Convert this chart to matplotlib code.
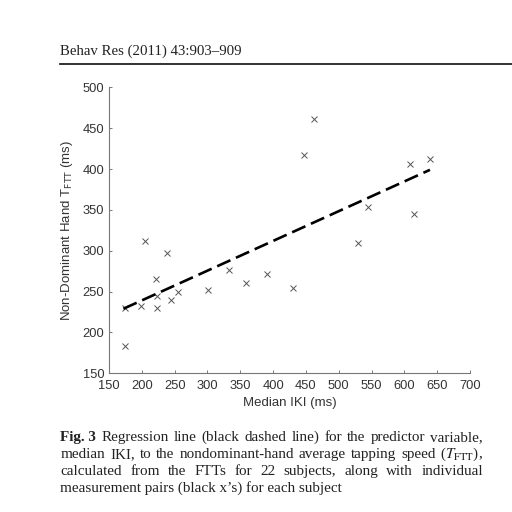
import numpy as np
import matplotlib.pyplot as plt
from matplotlib.lines import Line2D

median_iki = [174, 174, 199, 205, 222, 223, 223, 238, 245, 255, 301,
              333, 359, 390, 430, 447, 462, 530, 544, 608, 615, 639]
tftt_nondom = [183, 230, 232, 312, 265, 244, 230, 297, 240, 249, 252,
               276, 261, 271, 255, 417, 461, 310, 353, 406, 345, 412]

# regression line end points
fit_x = [172, 639]
fit_y = [229, 399]

x_ticks = list(range(150, 701, 50))
y_ticks = list(range(150, 501, 50))

header = "Behav Res (2011) 43:903\u2013909"
caption_lines = [
    [("Fig. 3", "bold"), ("Regression", None), ("line", None), ("(black", None), ("dashed", None),
     ("line)", None), ("for", None), ("the", None), ("predictor", None), ("variable,", None)],
    [("median", None), ("IKI,", None), ("to", None), ("the", None), ("nondominant-hand", None),
     ("average", None), ("tapping", None), ("speed", None), (r"($T_{\mathrm{FTT}}$),", None)],
    [("calculated", None), ("from", None), ("the", None), ("FTTs", None), ("for", None), ("22", None),
     ("subjects,", None), ("along", None), ("with", None), ("individual", None)],
]
caption_last = "measurement pairs (black x\u2019s) for each subject"

W = H = 512
fig = plt.figure(figsize=(W / 100, H / 100), dpi=100)
fig.patch.set_facecolor("white")


def fx(px):
    return px / W


def fy(py):
    return 1 - py / H


sans = ["Liberation Sans", "DejaVu Sans"]
serif = ["Liberation Serif", "DejaVu Serif"]

# page header + rule
fig.text(fx(60.5), fy(55), header, family=serif, fontsize=10.7, color="#222",
         va="baseline", ha="left")
fig.add_artist(Line2D([fx(60), fx(512)], [fy(64), fy(64)], transform=fig.transFigure,
                      color="#222", lw=1.3))

ax = fig.add_axes([fx(109), fy(373.3), (470 - 109) / W, (373.3 - 87.3) / H])
ax.plot(median_iki, tftt_nondom, "x", color="#555", ms=4, mew=0.7)
ax.plot(fit_x, fit_y, color="black", lw=1.9, dashes=(5.5, 2.3))

ax.set_xlim(150, 700)
ax.set_ylim(150, 500)
ax.set_xticks(x_ticks)
ax.set_yticks(y_ticks)
for s in ["top", "right"]:
    ax.spines[s].set_visible(False)
for s in ["left", "bottom"]:
    ax.spines[s].set_color("#777")
    ax.spines[s].set_linewidth(0.8)
ax.tick_params(direction="in", length=2.5, width=0.7, color="#777",
               labelsize=9.3, labelcolor="#333")
ax.tick_params(axis="x", pad=4.5)
ax.tick_params(axis="y", pad=3.5)
for lab in ax.get_xticklabels() + ax.get_yticklabels():
    lab.set_family(sans)

fig.text(fx(290), fy(403), "Median IKI (ms)", family=sans, fontsize=9.5,
         color="#333", ha="center", va="center")
fig.text(fx(67), fy(230), r"Non-Dominant Hand T$_{\mathrm{FTT}}$ (ms)", family=sans,
         fontsize=9.5, color="#333", ha="center", va="center", rotation=90,
         math_fontfamily="dejavusans")

# caption, justified lines
renderer = fig.canvas.get_renderer()
cap_left, cap_right = 60.5, 483
baselines = [441, 458, 475, 492]
cap_size = 10.9
for words, base in zip(caption_lines, baselines):
    texts = []
    for w, weight in words:
        t = fig.text(0, fy(base), w, family=serif, fontsize=cap_size, color="#222",
                     fontweight=weight or "normal", va="baseline", ha="left",
                     math_fontfamily="stix")
        texts.append(t)
    widths = [t.get_window_extent(renderer=renderer).width for t in texts]
    gap = (cap_right - cap_left - sum(widths)) / (len(texts) - 1)
    x = cap_left
    for t, w in zip(texts, widths):
        t.set_x(fx(x))
        x += w + gap
fig.text(fx(cap_left), fy(baselines[3]), caption_last, family=serif, fontsize=cap_size,
         color="#222", va="baseline", ha="left")

fig.savefig("out.png", dpi=100)
